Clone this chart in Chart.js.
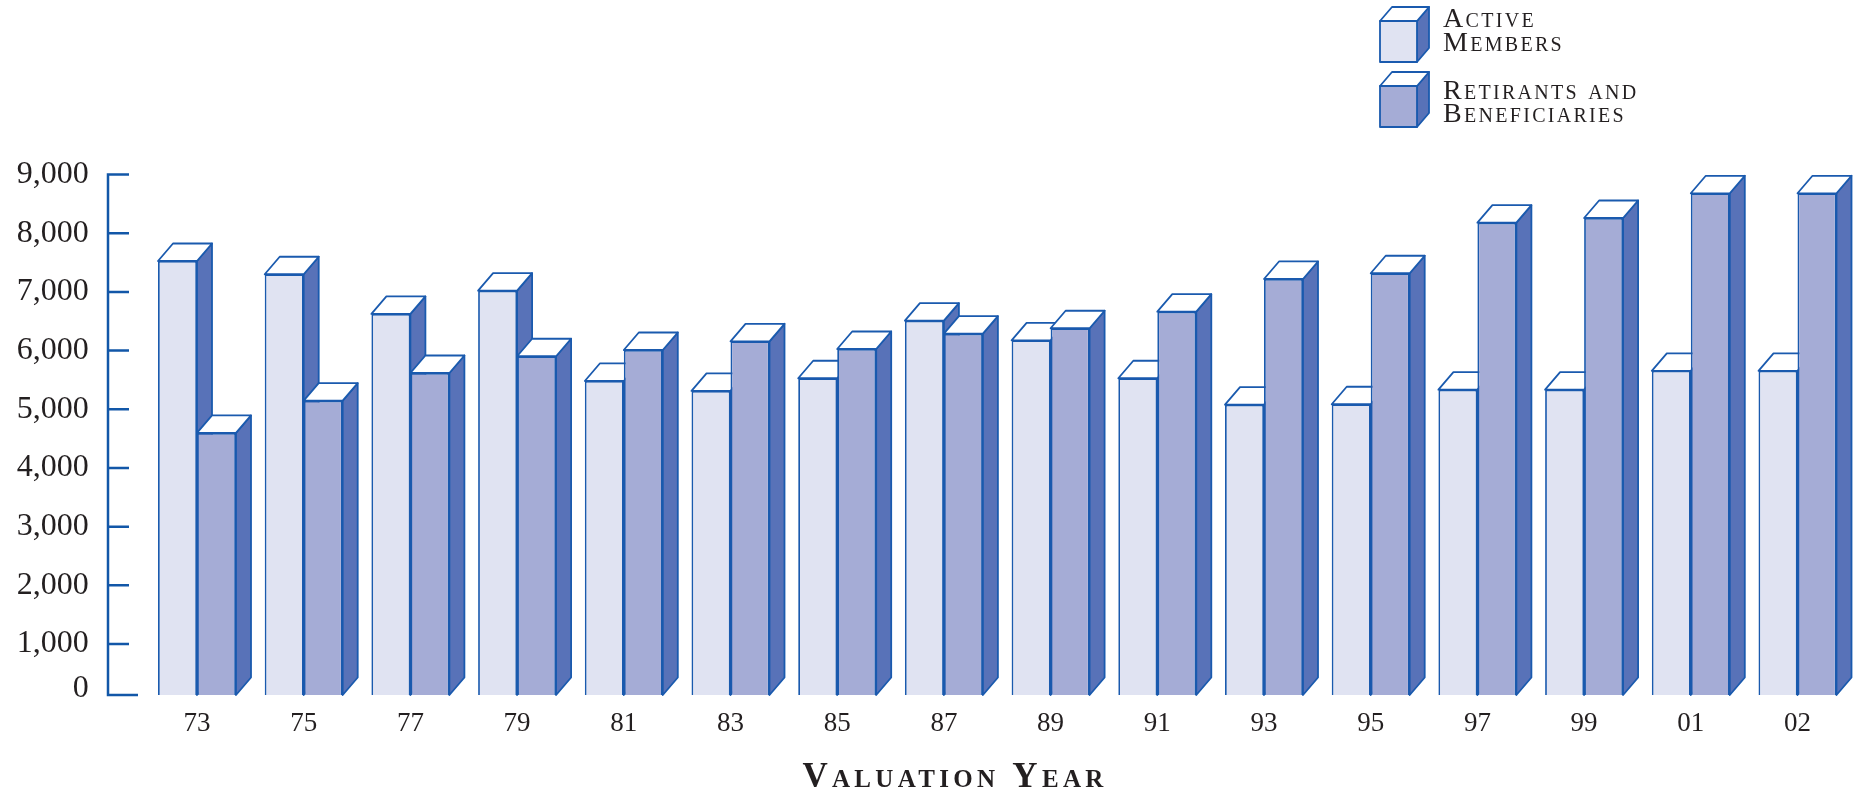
<!DOCTYPE html>
<html>
    <head>
        <title>Valuation Year</title>
        <style>
            html, body { margin: 0; padding: 0; background: #fff; }
            #wrap { position: relative; width: 1860px; height: 791px; overflow: hidden; }
        </style>
        <script src="https://cdn.jsdelivr.net/npm/chart.js@4"></script>
    </head>
    <body>
        <div id="wrap"><canvas id="chart"></canvas></div>
        <script>
            const years = ['73', '75', '77', '79', '81', '83', '85', '87', '89', '91', '93', '95', '97', '99', '01', '02'];
            const activeMembers = [7526, 7300, 6624, 7020, 5482, 5312, 5528, 6509, 6175, 5528, 5078, 5085, 5334, 5334, 5655, 5655];
            const retirants = [4596, 5147, 5618, 5903, 6010, 6158, 6027, 6288, 6380, 6663, 7220, 7317, 8179, 8259, 8680, 8680];
            const valueTicks = [1000, 2000, 3000, 4000, 5000, 6000, 7000, 8000, 9000];
            const legendActive = ['Active', 'Members'];
            const legendRetirants = ['Retirants and', 'Beneficiaries'];
            const axisTitle = 'Valuation Year';

            // the bottom step of the value axis is drawn short, the "0" tick sits at this value
            const AXIS_FLOOR = 131;

            const BLUE = '#1a5aae';
            const SIDE = '#5872b8';
            const TEXT = '#231f20';
            const DEPTH_X = 15, DEPTH_Y = 17.5;

            // side and top faces of a box, the front is the bar itself
            function drawFaces(ctx, left, right, top, bottom, dx, dy) {
                ctx.lineWidth = 1.8;
                ctx.strokeStyle = BLUE;
                ctx.lineJoin = 'round';
                ctx.fillStyle = SIDE;
                ctx.beginPath();
                ctx.moveTo(right, top);
                ctx.lineTo(right + dx, top - dy);
                ctx.lineTo(right + dx, bottom - dy);
                ctx.lineTo(right, bottom);
                ctx.closePath();
                ctx.fill();
                ctx.stroke();
                ctx.fillStyle = '#fff';
                ctx.beginPath();
                ctx.moveTo(left, top);
                ctx.lineTo(left + dx, top - dy);
                ctx.lineTo(right + dx, top - dy);
                ctx.lineTo(right, top);
                ctx.closePath();
                ctx.fill();
                ctx.stroke();
            }

            // all faces go down before any front so the right hand bar covers its neighbour's side
            const boxFaces = {
                id: 'boxFaces',
                beforeDatasetsDraw(chart) {
                    const ctx = chart.ctx;
                    ctx.save();
                    chart.data.datasets.forEach((ds, i) => {
                        chart.getDatasetMeta(i).data.forEach(bar => {
                            const half = bar.width / 2;
                            drawFaces(ctx, bar.x - half, bar.x + half, bar.y, bar.base, DEPTH_X, DEPTH_Y);
                        });
                    });
                    ctx.restore();
                }
            };

            // value axis sits left of the plot with its ticks pointing inwards
            const valueAxis = {
                id: 'valueAxis',
                afterDraw(chart) {
                    const ctx = chart.ctx;
                    const y = chart.scales.y;
                    ctx.save();
                    ctx.strokeStyle = '#1257a8';
                    ctx.lineWidth = 2.5;
                    ctx.beginPath();
                    ctx.moveTo(108, y.top - 1.25);
                    ctx.lineTo(108, y.bottom + 1.25);
                    y.ticks.forEach(t => {
                        const py = y.getPixelForValue(t.value);
                        ctx.moveTo(108, py);
                        ctx.lineTo(t.value === AXIS_FLOOR ? 138 : 129, py);
                    });
                    ctx.stroke();
                    ctx.restore();
                }
            };

            const captions = {
                id: 'captions',
                afterDraw(chart) {
                    const ctx = chart.ctx;
                    const rows = [
                        { lines: legendActive, fill: chart.data.datasets[0].backgroundColor, top: 21, bottom: 62, base: [27, 51] },
                        { lines: legendRetirants, fill: chart.data.datasets[1].backgroundColor, top: 86, bottom: 127, base: [99, 122] }
                    ];
                    ctx.save();
                    ctx.textBaseline = 'alphabetic';
                    rows.forEach(r => {
                        drawFaces(ctx, 1380, 1417, r.top, r.bottom, 12, 14);
                        ctx.fillStyle = r.fill;
                        ctx.fillRect(1380, r.top, 37, r.bottom - r.top);
                        ctx.strokeRect(1380, r.top, 37, r.bottom - r.top);
                        ctx.fillStyle = TEXT;
                        ctx.font = 'small-caps 28px "Liberation Serif"';
                        ctx.letterSpacing = '2.3px';
                        ctx.textAlign = 'left';
                        r.lines.forEach((line, i) => ctx.fillText(line, 1443, r.base[i]));
                    });
                    ctx.font = 'small-caps bold 35px "Liberation Serif"';
                    ctx.letterSpacing = '4.3px';
                    ctx.textAlign = 'center';
                    ctx.fillText(axisTitle, 955, 787);
                    ctx.restore();
                }
            };

            new Chart(document.getElementById('chart'), {
                type: 'bar',
                data: {
                    labels: years,
                    datasets: [
                        { label: 'Active Members', data: activeMembers, base: AXIS_FLOOR, backgroundColor: '#e0e3f2', borderColor: BLUE, borderWidth: 1.8 },
                        { label: 'Retirants and Beneficiaries', data: retirants, base: AXIS_FLOOR, backgroundColor: '#a5acd6', borderColor: BLUE, borderWidth: 1.8 }
                    ]
                },
                plugins: [boxFaces, valueAxis, captions],
                options: {
                    responsive: true,
                    maintainAspectRatio: false,
                    animation: false,
                    categoryPercentage: 0.731,
                    barPercentage: 1,
                    layout: { padding: { left: 0, right: 9.15, top: 174.5, bottom: 0 } },
                    plugins: {
                        legend: { display: false },
                        tooltip: { enabled: false }
                    },
                    scales: {
                        x: {
                            border: { display: false },
                            grid: { display: false },
                            ticks: { color: TEXT, padding: 5, maxRotation: 0, font: { family: '"Liberation Serif"', size: 27 } },
                            afterFit(scale) { scale.height = 96; }
                        },
                        y: {
                            min: AXIS_FLOOR,
                            max: 9000,
                            border: { display: false },
                            grid: { display: false, drawTicks: false },
                            afterFit(scale) { scale.width = 143.65; },
                            afterBuildTicks(scale) {
                                scale.ticks = [AXIS_FLOOR, ...valueTicks].map(value => ({ value }));
                            },
                            ticks: {
                                color: TEXT,
                                padding: 55,
                                font: ctx => ({ family: '"Liberation Serif"', size: 32, lineHeight: ctx.tick && ctx.tick.value === AXIS_FLOOR ? '12px' : 1.2 }),
                                // the zero label rides a little above its tick
                                callback: v => v === AXIS_FLOOR ? ['0', ''] : v.toLocaleString('en-US')
                            }
                        }
                    }
                }
            });
        </script>
    </body>
</html>
